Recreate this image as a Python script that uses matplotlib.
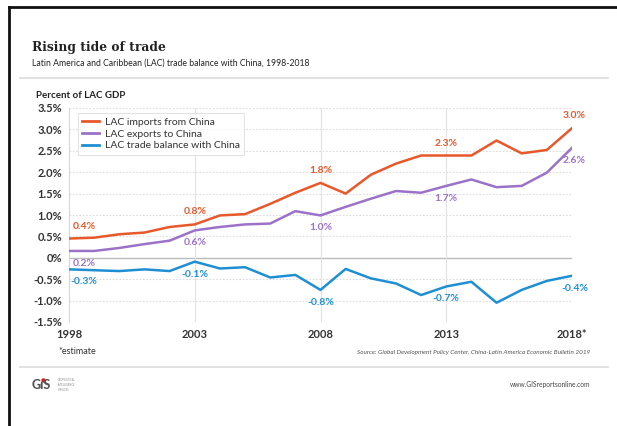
import numpy as np
import matplotlib.pyplot as plt
from matplotlib.lines import Line2D

# Data (percent of LAC GDP)
years = list(range(1998, 2019))
imports = [0.45, 0.47, 0.55, 0.59, 0.72, 0.78, 0.99, 1.02, 1.26, 1.52, 1.75,
           1.50, 1.94, 2.20, 2.39, 2.39, 2.39, 2.74, 2.44, 2.52, 3.03]
exports = [0.16, 0.16, 0.23, 0.32, 0.40, 0.64, 0.72, 0.78, 0.80, 1.09, 0.99,
           1.19, 1.38, 1.56, 1.52, 1.68, 1.83, 1.65, 1.68, 1.99, 2.57]
balance = [-0.27, -0.29, -0.31, -0.27, -0.31, -0.09, -0.25, -0.22, -0.46, -0.40, -0.75,
           -0.26, -0.48, -0.60, -0.87, -0.67, -0.56, -1.05, -0.75, -0.54, -0.42]

label_years = [1998, 2003, 2008, 2013, 2018]
imports_labels = ['0.4%', '0.8%', '1.8%', '2.3%', '3.0%']
exports_labels = ['0.2%', '0.6%', '1.0%', '1.7%', '2.6%']
balance_labels = ['-0.3%', '-0.1%', '-0.8%', '-0.7%', '-0.4%']

yticks = [3.5, 3.0, 2.5, 2.0, 1.5, 1.0, 0.5, 0, -0.5, -1.0, -1.5]
ytick_labels = ['3.5%', '3.0%', '2.5%', '2.0%', '1.5%', '1.0%', '0.5%', '0%', '-0.5%', '-1.0%', '-1.5%']
xticks = [1998, 2003, 2008, 2013, 2018]
xtick_labels = ['1998', '2003', '2008', '2013', '2018*']

c_imp = '#e8582b'
c_exp = '#9c72c9'
c_bal = '#1f8fd4'
dark = '#333333'

plt.rcParams['font.family'] = ['Lato', 'DejaVu Sans']

W, H = 617, 426
fig = plt.figure(figsize=(W / 100, H / 100), dpi=100)

def fx(px):
    return px / W

def fy(py):
    return 1 - py / H

ax = fig.add_axes([fx(69), fy(322), fx(572) - fx(69), fy(108) - fy(322)])

ax.plot(years, imports, color=c_imp, lw=1.8, label='LAC imports from China', zorder=3)
ax.plot(years, exports, color=c_exp, lw=1.8, label='LAC exports to China', zorder=3)
ax.plot(years, balance, color=c_bal, lw=1.8, label='LAC trade balance with China', zorder=3)

ax.set_xlim(1998, 2018)
ax.set_ylim(-1.5, 3.5)

# grid
for y in yticks:
    if y == 0:
        ax.axhline(0, color='#bbbbbb', lw=1.0, zorder=1)
    else:
        ax.axhline(y, color='#dddddd', lw=0.8, ls=(0, (1.5, 1.5)), zorder=1)
for x in [2003, 2008, 2013]:
    ax.axvline(x, color='#e2e2e2', lw=0.8, zorder=1)

for s in ['top', 'right', 'bottom']:
    ax.spines[s].set_visible(False)
ax.spines['left'].set_color('#d5d5d5')
ax.spines['left'].set_linewidth(0.8)

ax.set_yticks(yticks)
ax.set_yticklabels(ytick_labels)
ax.set_xticks(xticks)
ax.set_xticklabels(xtick_labels)
ax.tick_params(length=0, labelsize=8, colors=dark, pad=5)
for t in ax.get_yticklabels() + ax.get_xticklabels():
    t.set_fontweight('bold')

# value labels
def put_labels(vals, labels, color, dy):
    for yr, lab in zip(label_years, labels):
        v = vals[years.index(yr)]
        xo = 0
        if yr == 1998:
            xo = 0.6
        if yr == 2018:
            xo = 0.1
        ax.annotate(lab, (yr + xo, v), xytext=(0, dy), textcoords='offset points',
                    ha='center', va='center', color=color, fontsize=7.5, fontweight='bold',
                    annotation_clip=False)

put_labels(imports, imports_labels, c_imp, 9)
put_labels(exports, exports_labels, c_exp, -9)
put_labels(balance, balance_labels, c_bal, -9)

handles = [Line2D([], [], color=c, lw=2) for c in [c_imp, c_exp, c_bal]]
leg = ax.legend(handles, ['LAC imports from China', 'LAC exports to China',
                          'LAC trade balance with China'],
                loc='upper left', bbox_to_anchor=(0.008, 1.0), fontsize=7.5,
                frameon=True, fancybox=False, handlelength=1.6, handletextpad=0.6,
                labelspacing=0.25, borderpad=0.4)
leg.get_frame().set_edgecolor('#dddddd')
leg.get_frame().set_linewidth(0.8)
for t in leg.get_texts():
    t.set_color(dark)

# header and footer
fig.text(fx(32), fy(48), 'Rising tide of trade', fontsize=8.8, fontweight='bold',
         family='DejaVu Serif', color='#222222', va='center')
fig.text(fx(32), fy(63), 'Latin America and Caribbean (LAC) trade balance with China, 1998-2018',
         fontsize=6.2, color='#222222', va='center')
fig.text(fx(36), fy(95), 'Percent of LAC GDP', fontsize=7, fontweight='bold',
         color='#222222', va='center')
fig.text(fx(58), fy(352), '*estimate', fontsize=6.5, color=dark, va='center')
fig.text(fx(590), fy(352),
         'Source: Global Development Policy Center, China-Latin America Economic Bulletin 2019',
         fontsize=4.6, style='italic', color='#555555', ha='right', va='center')
fig.text(fx(590), fy(385), 'www.GISreportsonline.com', fontsize=4.8, color='#444444',
         ha='right', va='center')

# logo
fig.text(fx(32), fy(385), 'GıS', fontsize=9, fontweight='black', color='#555555', va='center')
fig.add_artist(Line2D([fx(43.5)], [fy(380)], marker='o', ms=2.2, color='#d62020', lw=0))
fig.text(fx(58), fy(385), 'GEOPOLITICAL\nINTELLIGENCE\nSERVICES', fontsize=1.8,
         color='#888888', va='center', linespacing=1.2)

# separator lines and frame
fig.add_artist(Line2D([fx(20), fx(608)], [fy(78), fy(78)], color='#dcdcdc', lw=1.2))
fig.add_artist(Line2D([fx(20), fx(608)], [fy(367), fy(367)], color='#dcdcdc', lw=1.2))
fig.add_artist(Line2D([fx(9), fx(617)], [fy(6.5), fy(6.5)], color='#111111', lw=2))
fig.add_artist(Line2D([fx(9), fx(9)], [fy(6.5), fy(426)], color='#111111', lw=2))

fig.savefig('out.png', dpi=100)
